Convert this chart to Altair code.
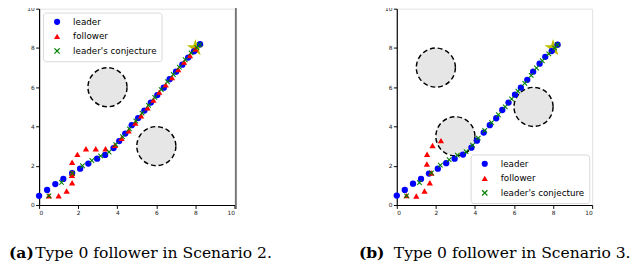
import altair as alt
import pandas as pd

SERIES = ["leader", "follower", "leader's conjecture"]
COLORS = ["#0000ff", "#ff0000", "#008000"]
XSHAPE = "M-1,-0.72L-0.72,-1L0,-0.28L0.72,-1L1,-0.72L0.28,0L1,0.72L0.72,1L0,0.28L-0.72,1L-1,0.72L-0.28,0Z"
SHAPES = ["circle", "triangle-up", XSHAPE]
STAR = ("M0,-1L0.2234,-0.3074L0.9511,-0.309L0.3614,0.1174L0.5878,0.809L0,0.38"
        "L-0.5878,0.809L-0.3614,0.1174L-0.9511,-0.309L-0.2234,-0.3074Z")

# Scenario 2 (left)
s2_leader_x = [0, 0.41, 0.83, 1.24, 1.69, 2.1, 2.52, 2.97, 3.38, 3.81, 4.1, 4.41, 4.74, 5.07, 5.39, 5.72, 6.05, 6.38, 6.68, 7.01, 7.33, 7.63, 7.93, 8.24]
s2_leader_y = [0.47, 0.77, 1.07, 1.33, 1.63, 1.85, 2.11, 2.36, 2.55, 2.9, 3.26, 3.64, 4.07, 4.43, 4.81, 5.22, 5.6, 5.98, 6.41, 6.79, 7.15, 7.51, 7.83, 8.19]
s2_follower_x = [0.5, 1.0, 1.41, 1.69, 1.68, 1.69, 1.69, 1.96, 2.4, 2.9, 3.4, 3.88, 4.22, 4.58, 4.92, 5.22, 5.55, 5.85, 6.15, 6.48, 6.8, 7.12, 7.42, 7.72, 8.0]
s2_follower_y = [0.47, 0.47, 0.71, 1.14, 1.52, 1.62, 2.18, 2.58, 2.87, 2.87, 2.87, 3.05, 3.4, 3.78, 4.18, 4.55, 4.95, 5.35, 5.75, 6.12, 6.5, 6.9, 7.28, 7.62, 7.95]
s2_conj_x = [0.5, 1.15, 1.7, 2.22, 2.7, 3.15, 3.58, 3.92, 4.27, 4.62, 4.95, 5.27, 5.6, 5.92, 6.25, 6.57, 6.87, 7.18, 7.48, 7.78, 8.08, 8.22]
s2_conj_y = [0.47, 1.15, 1.62, 2.0, 2.27, 2.5, 2.7, 3.08, 3.48, 3.88, 4.28, 4.68, 5.08, 5.48, 5.88, 6.28, 6.65, 7.02, 7.4, 7.75, 8.02, 8.17]
s2_obst_x = [3.5, 6.0]
s2_obst_y = [6.0, 3.0]

# Scenario 3 (right)
s3_leader_x = [0, 0.41, 0.83, 1.24, 1.65, 2.1, 2.53, 2.96, 3.39, 3.82, 4.1, 4.45, 4.76, 5.09, 5.4, 5.72, 6.05, 6.35, 6.68, 6.98, 7.31, 7.6, 7.93, 8.23]
s3_leader_y = [0.48, 0.77, 1.09, 1.33, 1.6, 1.85, 2.13, 2.36, 2.57, 2.92, 3.28, 3.69, 4.07, 4.42, 4.84, 5.22, 5.62, 5.98, 6.38, 6.79, 7.2, 7.55, 7.84, 8.17]
s3_follower_x = [0.5, 1.0, 1.42, 1.69, 1.77, 1.54, 1.55, 1.83, 2.26]
s3_follower_y = [0.48, 0.46, 0.71, 1.14, 1.63, 2.09, 2.59, 3.03, 3.28]
s3_conj_x = [0.5, 1.16, 1.77, 2.23, 2.68, 3.1, 3.55, 3.88, 4.17, 4.5, 4.85, 5.2, 5.55, 5.88, 6.2, 6.55, 6.88, 7.15, 7.45, 7.78, 8.08, 8.22]
s3_conj_y = [0.47, 1.14, 1.63, 2.03, 2.31, 2.54, 2.72, 3.05, 3.41, 3.8, 4.2, 4.6, 5.0, 5.4, 5.8, 6.2, 6.6, 6.98, 7.35, 7.7, 8.0, 8.17]
s3_obst_x = [2.0, 3.0, 7.0]
s3_obst_y = [7.0, 3.5, 5.0]

goal_x = [8.0]
goal_y = [8.0]
obst_radius = 1.0

captions_tag = ["(a)", "(b)"]
captions_text = ["Type 0 follower in Scenario 2.", "Type 0 follower in Scenario 3."]

W = 201
H = 202
PX_PER_UNIT = W / 10.0


def make_axis():
    return alt.Axis(values=[0, 2, 4, 6, 8, 10], grid=False, labelFontSize=6, labelFont="DejaVu Sans",
                    labelColor="#222", tickSize=3.5, tickColor="#000", domainColor="#000",
                    domainWidth=1.2, labelPadding=1.5, title=None)


def panel(lx, ly, fx, fy, cx, cy, ox, oy, tag, text, tag_x, text_x, legx, legy, dark_right):
    X = alt.X("x:Q", scale=alt.Scale(domain=[0, 10], nice=False, zero=False), axis=make_axis())
    Y = alt.Y("y:Q", scale=alt.Scale(domain=[0, 10], nice=False, zero=False), axis=make_axis())
    obst = alt.Chart(pd.DataFrame({"x": ox, "y": oy})).mark_point(
        shape="circle", filled=True, fill="#e6e6e6", stroke="#000",
        strokeWidth=1.5, strokeDash=[5, 3], opacity=1,
        size=round((2 * obst_radius * PX_PER_UNIT) ** 2)).encode(x=X, y=Y)
    star = alt.Chart(pd.DataFrame({"x": goal_x, "y": goal_y})).mark_point(
        shape=STAR, filled=True, color="#bfbf00", size=350, opacity=1).encode(x=X, y=Y)
    legend = alt.Legend(orient="none", legendX=legx, legendY=legy, title=None,
                        labelFont="DejaVu Sans", labelFontSize=9, labelColor="#000",
                        symbolSize=40, rowPadding=5, symbolOffset=5, labelOffset=12,
                        fillColor="#ffffff", strokeColor="#d8d8d8", cornerRadius=3, padding=5)
    layers = [obst, star]
    sizes = {"leader": 42, "follower": 42, "leader's conjecture": 30}
    for name, xs, ys in [("leader", lx, ly), ("follower", fx, fy), ("leader's conjecture", cx, cy)]:
        df = pd.DataFrame({"x": xs, "y": ys, "series": name})
        layers.append(alt.Chart(df).mark_point(filled=True, opacity=1, size=sizes[name]).encode(
            x=X, y=Y,
            color=alt.Color("series:N", scale=alt.Scale(domain=SERIES, range=COLORS), legend=legend),
            shape=alt.Shape("series:N", scale=alt.Scale(domain=SERIES, range=SHAPES), legend=legend)))
    cap = pd.DataFrame({"tag": [tag], "text": [text]})
    layers.append(alt.Chart(cap).mark_text(font="DejaVu Serif", fontSize=16, fontWeight="bold",
                                           align="left", baseline="alphabetic", color="#000").encode(
        x=alt.value(tag_x), y=alt.value(257), text="tag:N"))
    layers.append(alt.Chart(cap).mark_text(font="DejaVu Serif", fontSize=16,
                                           align="left", baseline="alphabetic", color="#000").encode(
        x=alt.value(text_x), y=alt.value(257), text="text:N"))
    if dark_right:
        layers.append(alt.Chart(cap).mark_rule(color="#555", strokeWidth=1.5).encode(
            x=alt.value(W + 1.5), y=alt.value(-3), y2=alt.value(H + 4)))
    return alt.layer(*layers).properties(width=W, height=H)


left = panel(s2_leader_x, s2_leader_y, s2_follower_x, s2_follower_y, s2_conj_x, s2_conj_y,
             s2_obst_x, s2_obst_y, captions_tag[0], captions_text[0], -31, -4, 4, 4, True)
right = panel(s3_leader_x, s3_leader_y, s3_follower_x, s3_follower_y, s3_conj_x, s3_conj_y,
              s3_obst_x, s3_obst_y, captions_tag[1], captions_text[1], -39, -3, 76, 150, False)

chart = alt.hconcat(left, right, spacing=167, bounds="flush").resolve_legend(
    color="independent", shape="independent").properties(
    padding={"left": 0, "top": -8, "right": 0, "bottom": 0}).configure_view(
    stroke="#e2e2e2", strokeWidth=1)

chart.save("out.html", embed_options={"renderer": "svg", "actions": False})
